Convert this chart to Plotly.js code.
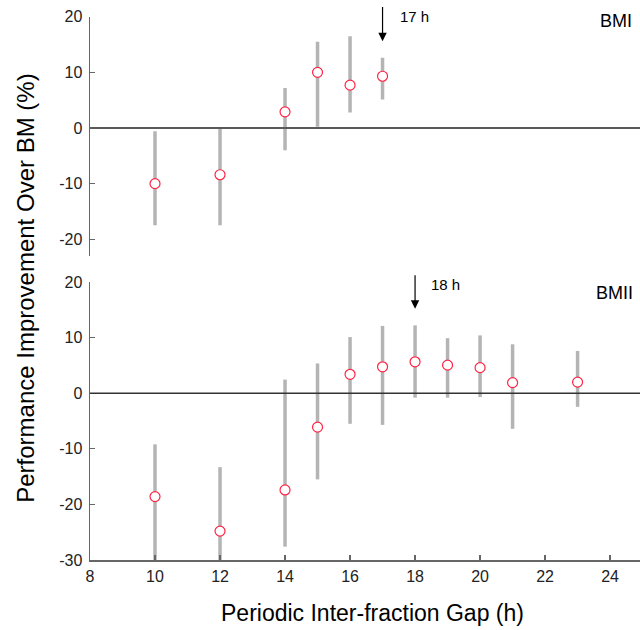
<!DOCTYPE html>
<html>
<head>
<meta charset="utf-8">
<script src="https://cdn.plot.ly/plotly-3.0.1.min.js"></script>
<style>html,body{margin:0;padding:0;background:#fff;}#chart{width:640px;height:630px;}</style>
</head>
<body>
<div id="chart"></div>
<script>
// BMI panel (top)
const gapsBMI  = [10, 12, 14, 15, 16, 17];
const meanBMI  = [-10.0, -8.4, 2.9, 10.0, 7.7, 9.3];
const upperBMI = [-0.6, 0.0, 7.2, 15.5, 16.5, 12.6];
const lowerBMI = [-17.5, -17.5, -4.0, 0.2, 2.8, 5.1];

// BMII panel (bottom)
const gapsBMII  = [10, 12, 14, 15, 16, 17, 18, 19, 20, 21, 23];
const meanBMII  = [-18.6, -24.8, -17.4, -6.1, 3.4, 4.75, 5.65, 5.05, 4.6, 1.9, 2.0];
const upperBMII = [-9.2, -13.3, 2.45, 5.35, 10.1, 12.1, 12.2, 9.9, 10.4, 8.8, 7.6];
const lowerBMII = [-30, -30, -27.6, -15.5, -5.5, -5.7, -0.8, -0.8, -0.7, -6.4, -2.45];

const xTicks = [8, 10, 12, 14, 16, 18, 20, 22, 24];
const yTicksTop = [-20, -10, 0, 10, 20];
const yTicksBottom = [-30, -20, -10, 0, 10, 20];
const bestBMI = 17, bestBMII = 18;

const FONT = 'Liberation Sans, Arial, Helvetica, sans-serif';
const RED = '#ff2444';
const GREY = '#b4b4b4';

function trace(x, y, lo, hi, xa, ya) {
  return {
    type: 'scatter', mode: 'markers', x: x, y: y, xaxis: xa, yaxis: ya,
    showlegend: false, cliponaxis: true,
    marker: {symbol: 'circle', size: 10, color: '#ffffff', line: {color: RED, width: 1.2}},
    error_y: {type: 'data', symmetric: false,
      array: hi.map((v, i) => v - y[i]),
      arrayminus: y.map((v, i) => v - lo[i]),
      width: 0, thickness: 3.5, color: GREY}
  };
}

const data = [
  trace(gapsBMII, meanBMII, lowerBMII, upperBMII, 'x', 'y'),
  trace(gapsBMI, meanBMI, lowerBMI, upperBMI, 'x2', 'y2')
];

const axisCommon = {
  showgrid: false, zeroline: false, showline: true, linecolor: '#666', linewidth: 1.5,
  ticks: 'inside', ticklen: 5, tickcolor: '#666', tickwidth: 1.2,
  tickfont: {family: FONT, size: 16, color: '#222'}
};
const lbl = v => String(v);

const layout = {
  width: 640, height: 630,
  margin: {l: 90, r: 0, t: 0, b: 70},
  paper_bgcolor: '#fff', plot_bgcolor: '#fff',
  font: {family: FONT},
  xaxis: Object.assign({}, axisCommon, {anchor: 'y', range: [8, 24.92], tickvals: xTicks, ticktext: xTicks.map(lbl), ticklabelstandoff: 1}),
  xaxis2: {anchor: 'y2', matches: 'x', visible: false, range: [8, 24.92]},
  yaxis: Object.assign({}, axisCommon, {anchor: 'x', domain: [0, 0.4964], range: [-30, 20], tickvals: yTicksBottom, ticktext: yTicksBottom.map(lbl), ticklabelstandoff: 3}),
  yaxis2: Object.assign({}, axisCommon, {anchor: 'x2', domain: [0.5429, 0.9702], range: [-23, 20], tickvals: yTicksTop, ticktext: yTicksTop.map(lbl), ticklabelstandoff: 3}),
  shapes: [
    {type: 'line', layer: 'above', xref: 'paper', yref: 'y2', x0: 0, x1: 1, y0: 0, y1: 0, line: {color: '#5a5a5a', width: 2}},
    {type: 'line', layer: 'above', xref: 'paper', yref: 'y', x0: 0, x1: 1, y0: 0, y1: 0, line: {color: '#333', width: 1.5}}
  ],
  annotations: [
    {xref: 'x2', yref: 'y2', x: bestBMI, y: 15.6, axref: 'x2', ayref: 'y2', ax: bestBMI, ay: 22.0,
     text: '', showarrow: true, arrowhead: 2, arrowsize: 1.4, arrowwidth: 1.2, arrowcolor: '#000', standoff: 0},
    {xref: 'x2', yref: 'y2', x: bestBMI + 0.47, y: 20.0, text: bestBMI + ' h', showarrow: false,
     xanchor: 'left', yanchor: 'middle', font: {family: FONT, size: 15, color: '#000'}},
    {xref: 'x', yref: 'y', x: bestBMII, y: 15.2, axref: 'x', ayref: 'y', ax: bestBMII, ay: 21.5,
     text: '', showarrow: true, arrowhead: 2, arrowsize: 1.4, arrowwidth: 1.2, arrowcolor: '#000', standoff: 0},
    {xref: 'x', yref: 'y', x: bestBMII + 0.43, y: 19.6, text: bestBMII + ' h', showarrow: false,
     xanchor: 'left', yanchor: 'middle', font: {family: FONT, size: 15, color: '#000'}},
    {xref: 'x2', yref: 'y2', x: 24.74, y: 19.2, text: 'BMI', showarrow: false,
     xanchor: 'right', yanchor: 'middle', font: {family: FONT, size: 18, color: '#000'}},
    {xref: 'x', yref: 'y', x: 24.77, y: 18.0, text: 'BMII', showarrow: false,
     xanchor: 'right', yanchor: 'middle', font: {family: FONT, size: 18, color: '#000'}},
    {xref: 'paper', yref: 'paper', x: -0.1164, y: 0.486, text: 'Performance Improvement Over BM (%)',
     textangle: -90, showarrow: false, xanchor: 'center', yanchor: 'middle',
     font: {family: FONT, size: 24, color: '#000'}},
    {xref: 'paper', yref: 'paper', x: 0.5145, y: -0.0946, text: 'Periodic Inter-fraction Gap (h)',
     showarrow: false, xanchor: 'center', yanchor: 'middle',
     font: {family: FONT, size: 23, color: '#000'}}
  ]
};

Plotly.newPlot('chart', data, layout, {displayModeBar: false, staticPlot: true});
</script>
</body>
</html>
